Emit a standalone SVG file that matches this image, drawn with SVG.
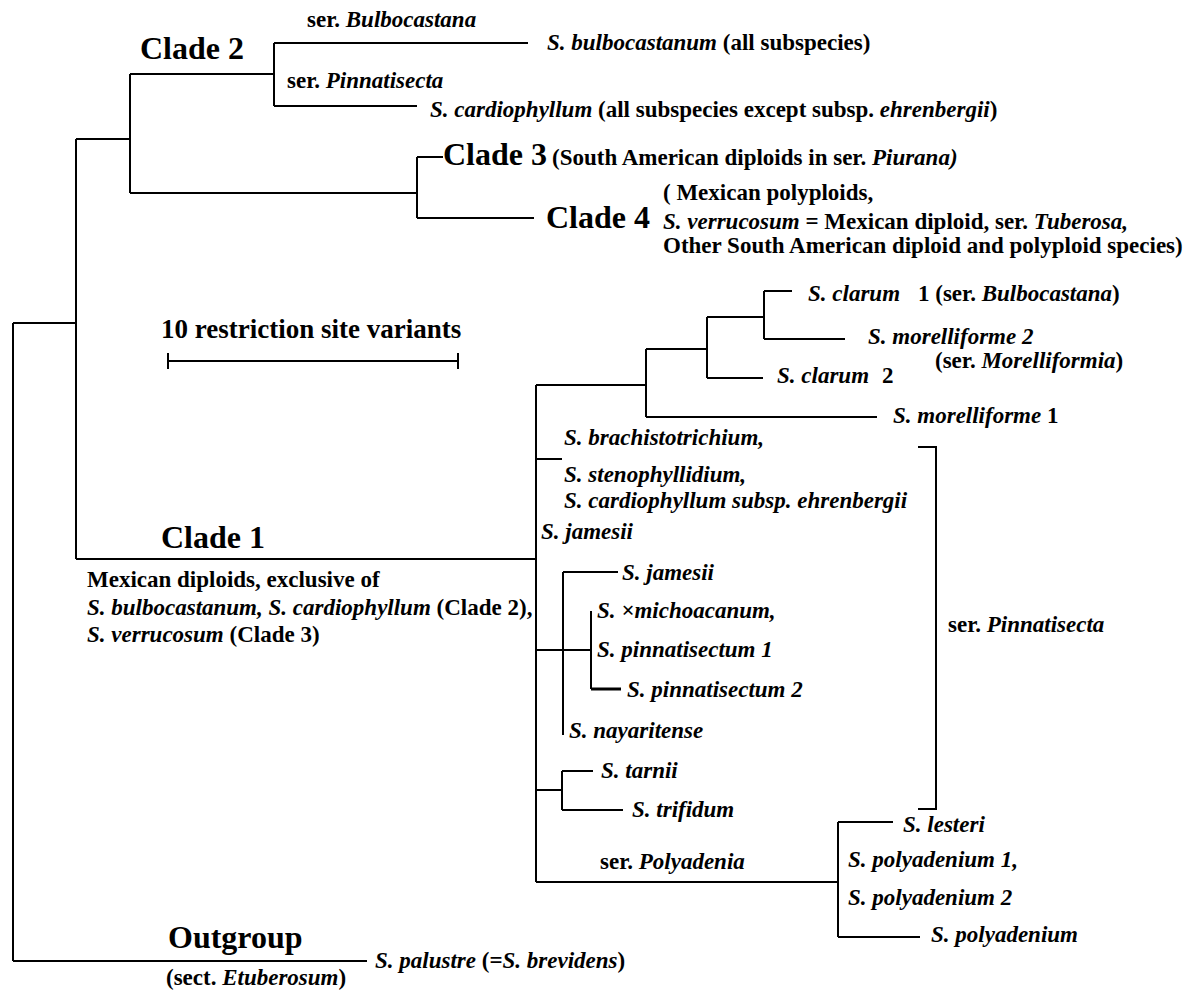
<svg xmlns="http://www.w3.org/2000/svg" width="1194" height="991" viewBox="0 0 1194 991">
<style>
text{font-family:"Liberation Serif","Times New Roman",serif;font-weight:bold;font-size:23px;fill:#000}
.i{font-style:italic}
.big{font-size:32px}
.mid{font-size:27px}
.ln{fill:none;stroke:#000;stroke-width:2}
.thick{stroke-width:3}
</style>
<rect width="1194" height="991" fill="#fff"/>
<g id="connectors" class="ln">
<path class="ln" d="M13,323V961M13,323H76M76,139V559M76,139H130M130,74V193M130,74H274M274,43V106M274,43H528M274,106H417M130,193H417M417,157V218M417,157H443M417,218H534"/>
<path class="ln" d="M168,361H458M168,353V369M458,353V369"/>
<path class="ln" d="M76,559H536M536,385V882M536,385H646M646,349V417M646,349H707M646,417H877M707,317V378M707,317H764M707,378H763M764,291V339M764,291H792M764,339H845"/>
<path class="ln" d="M536,459H562M563,572V735M563,572H618M536,650H591M591,611V689M536,790H562M562,771V810M562,771H593M562,810H623M536,882H838M838,822V937M838,822H893M838,937H920M13,961H367"/>
<path class="ln thick" d="M591,689H621"/>
<path class="ln" d="M918,447H936V809H918"/>
</g>
<g id="clade2"><text class="big" x="140" y="59">Clade 2</text></g>
<g id="ser-bulbocastana"><text x="307" y="27">ser. <tspan class="i">Bulbocastana</tspan></text></g>
<g id="s-bulbocastanum"><text x="547" y="50"><tspan class="i">S. bulbocastanum</tspan> (all subspecies)</text></g>
<g id="ser-pinnatisecta-top"><text x="287" y="88">ser. <tspan class="i">Pinnatisecta</tspan></text></g>
<g id="s-cardiophyllum"><text x="430" y="117"><tspan class="i">S. cardiophyllum</tspan> (all subspecies except subsp. <tspan class="i">ehrenbergii</tspan>)</text></g>
<g id="clade3"><text class="big" x="443" y="165">Clade 3</text><text x="552" y="165">(South American diploids in ser. <tspan class="i">Piurana)</tspan></text></g>
<g id="clade4"><text class="big" x="546" y="228">Clade 4</text>
<text x="663" y="200">( Mexican polyploids,</text>
<text x="663" y="229"><tspan class="i">S. verrucosum</tspan> = Mexican diploid, ser. <tspan class="i">Tuberosa,</tspan></text>
<text x="663" y="253">Other South American diploid and polyploid species)</text></g>
<g id="scale"><text class="mid" x="161" y="338">10 restriction site variants</text></g>
<g id="clade1"><text class="big" x="161" y="548">Clade 1</text>
<text x="87" y="587">Mexican diploids, exclusive of</text>
<text x="87" y="615"><tspan class="i">S. bulbocastanum, S. cardiophyllum</tspan> (Clade 2),</text>
<text x="87" y="642"><tspan class="i">S. verrucosum</tspan> (Clade 3)</text></g>
<g id="s-clarum-1"><text x="808" y="301"><tspan class="i">S. clarum</tspan><tspan x="918">1 (ser. </tspan><tspan class="i">Bulbocastana</tspan>)</text></g>
<g id="s-morelliforme-2"><text class="i" x="868" y="344">S. morelliforme 2</text><text x="935" y="368">(ser. <tspan class="i">Morelliformia</tspan>)</text></g>
<g id="s-clarum-2"><text x="777" y="383"><tspan class="i">S. clarum</tspan><tspan x="882">2</tspan></text></g>
<g id="s-morelliforme-1"><text x="893" y="423"><tspan class="i">S. morelliforme</tspan> 1</text></g>
<g id="group-brach">
<text class="i" x="564" y="445">S. brachistotrichium,</text>
<text class="i" x="564" y="482">S. stenophyllidium,</text>
<text class="i" x="564" y="508">S. cardiophyllum subsp. ehrenbergii</text>
<text class="i" x="541" y="539">S. jamesii</text></g>
<g id="s-jamesii"><text class="i" x="622" y="580">S. jamesii</text></g>
<g id="s-michoacanum"><text class="i" x="597" y="618">S. ×michoacanum,</text></g>
<g id="s-pinnatisectum-1"><text class="i" x="597" y="657">S. pinnatisectum 1</text></g>
<g id="s-pinnatisectum-2"><text class="i" x="627" y="697">S. pinnatisectum 2</text></g>
<g id="s-nayaritense"><text class="i" x="569" y="738">S. nayaritense</text></g>
<g id="s-tarnii"><text class="i" x="601" y="778">S. tarnii</text></g>
<g id="s-trifidum"><text class="i" x="632" y="817">S. trifidum</text></g>
<g id="ser-pinnatisecta"><text x="948" y="632">ser. <tspan class="i">Pinnatisecta</tspan></text></g>
<g id="ser-polyadenia"><text x="600" y="869">ser. <tspan class="i">Polyadenia</tspan></text></g>
<g id="s-lesteri"><text class="i" x="903" y="832">S. lesteri</text></g>
<g id="s-polyadenium-12"><text class="i" x="848" y="867">S. polyadenium 1,</text><text class="i" x="848" y="905">S. polyadenium 2</text></g>
<g id="s-polyadenium"><text class="i" x="931" y="942">S. polyadenium</text></g>
<g id="outgroup"><text class="big" x="168" y="948">Outgroup</text>
<text x="166" y="985">(sect. <tspan class="i">Etuberosum</tspan>)</text></g>
<g id="s-palustre"><text x="375" y="968"><tspan class="i">S. palustre</tspan> (=<tspan class="i">S. brevidens</tspan>)</text></g>
</svg>
